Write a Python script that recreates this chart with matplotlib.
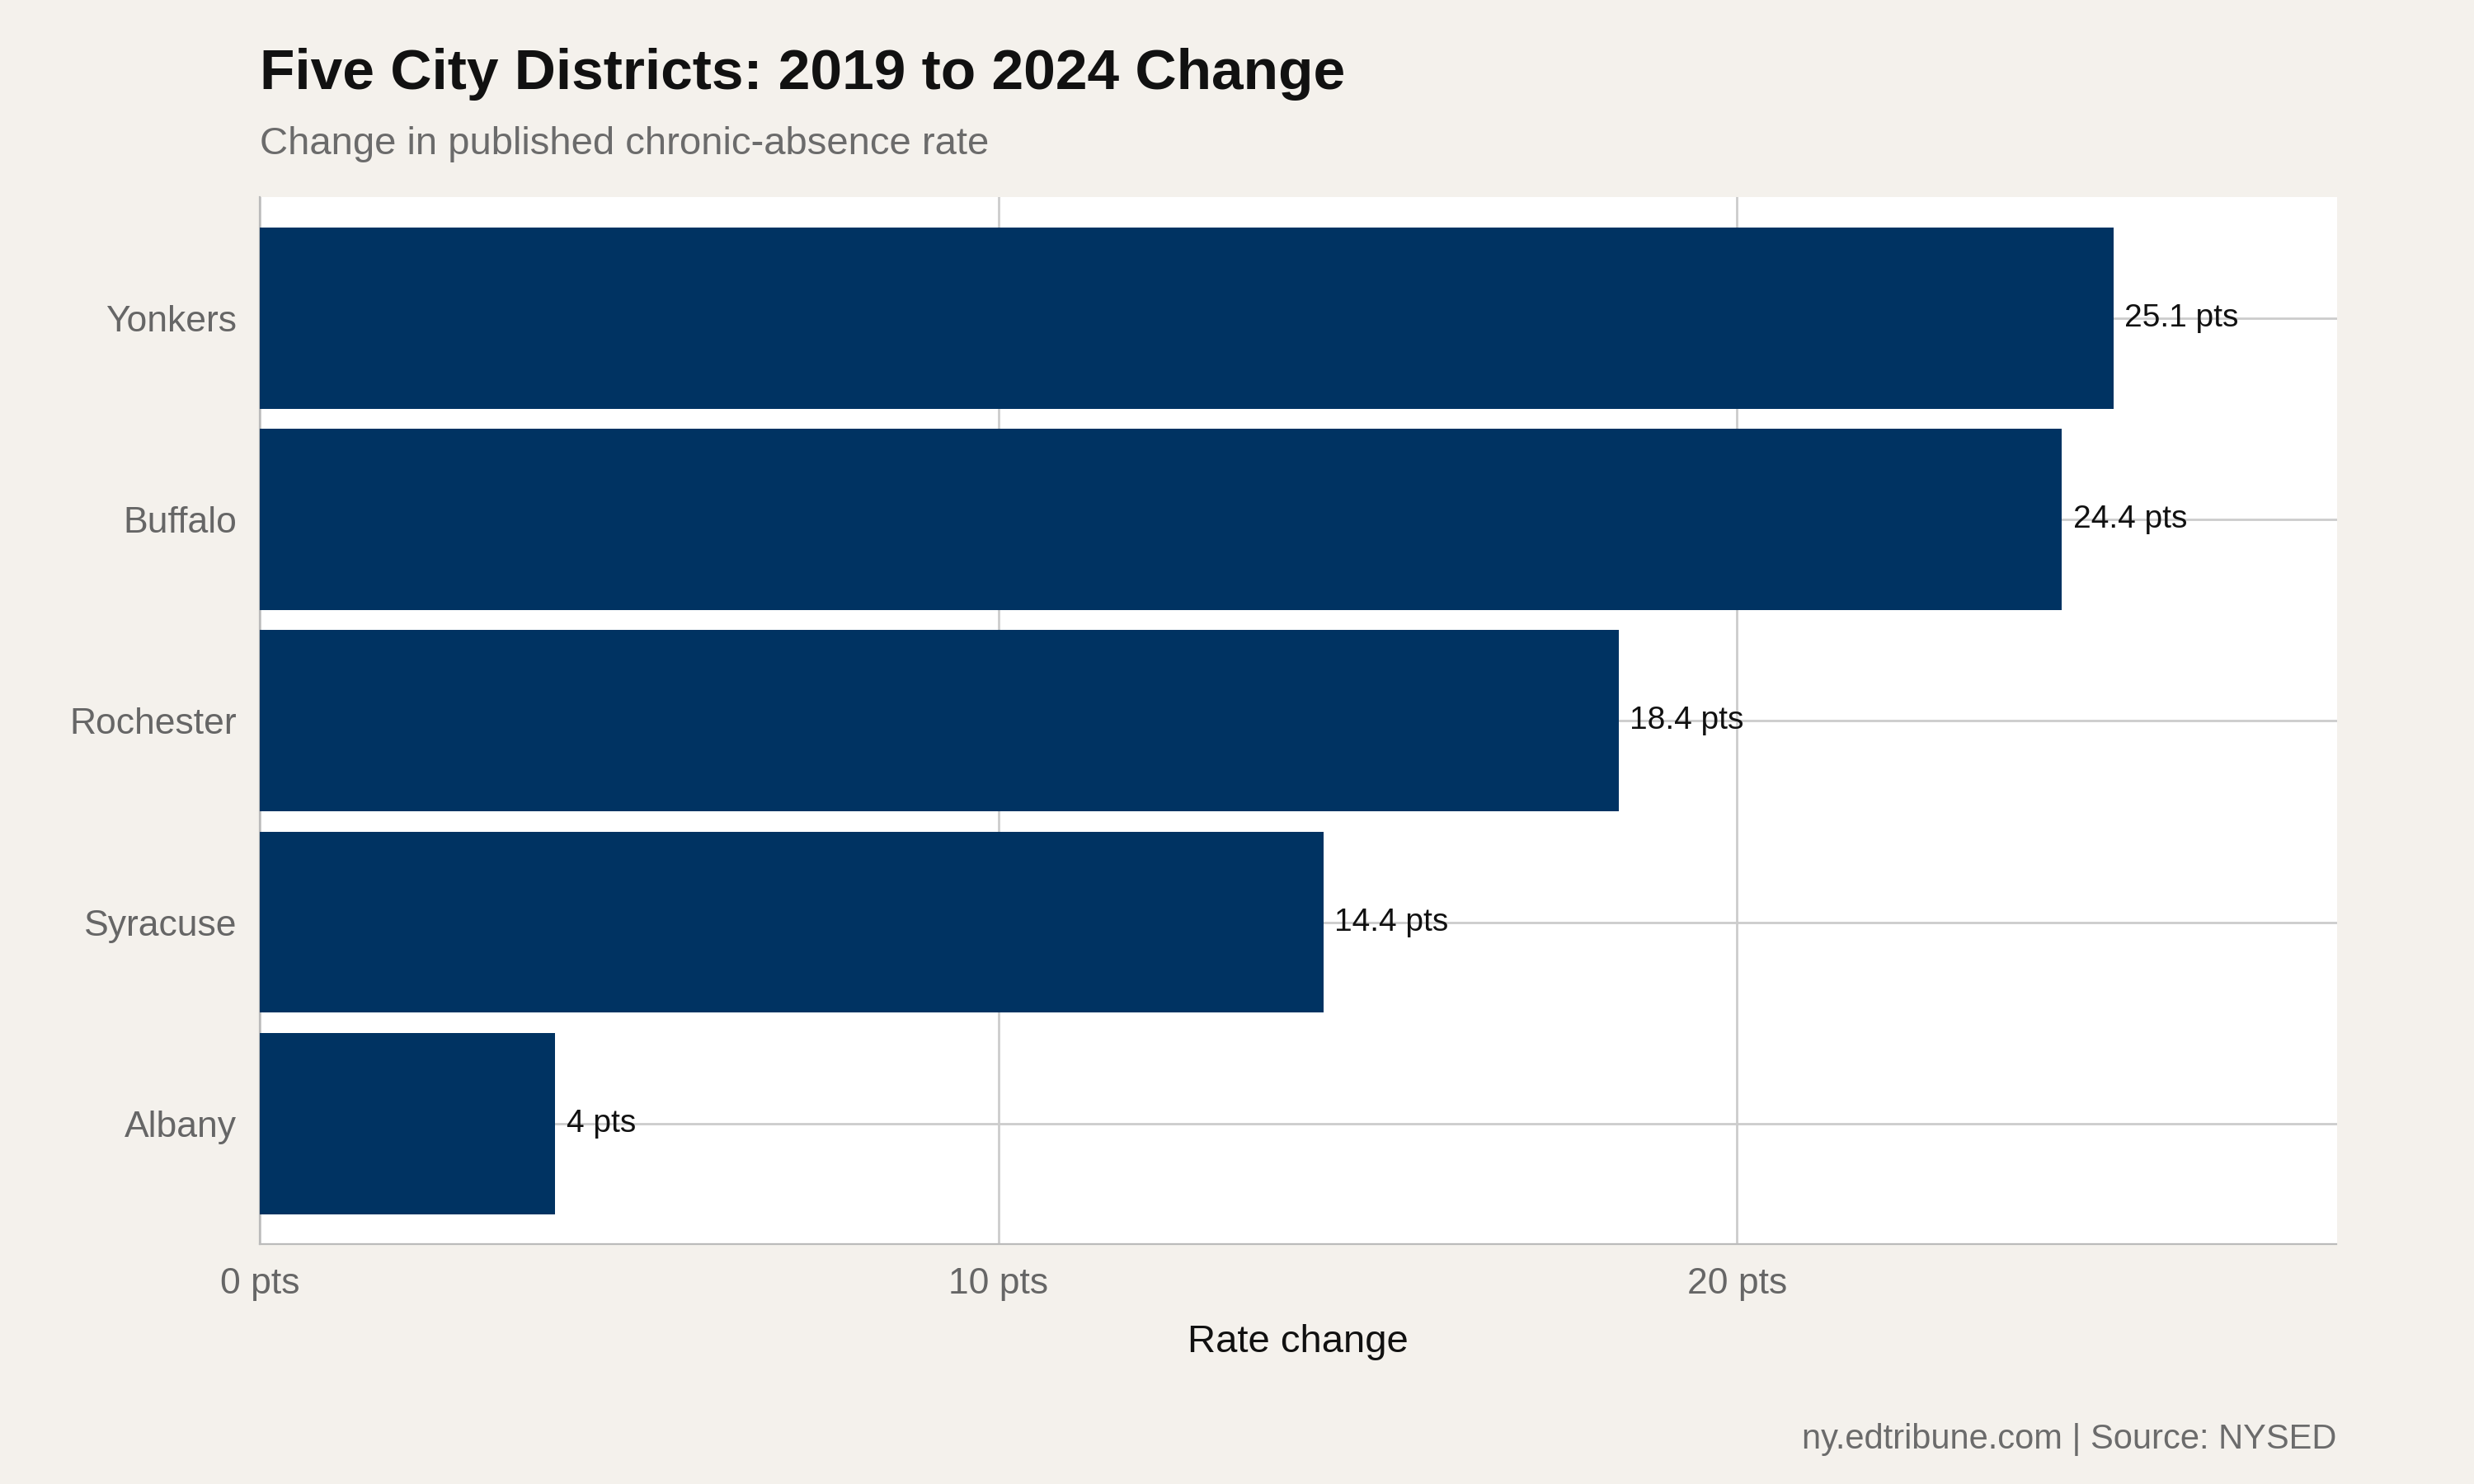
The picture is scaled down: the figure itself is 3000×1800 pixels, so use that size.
import matplotlib
matplotlib.use("Agg")
import matplotlib.pyplot as plt

districts = ["Albany", "Syracuse", "Rochester", "Buffalo", "Yonkers"]
changes = [4.0, 14.4, 18.4, 24.4, 25.1]
labels = ["4 pts", "14.4 pts", "18.4 pts", "24.4 pts", "25.1 pts"]
xticks = [0, 10, 20]

BG = "#f4f1ec"
BAR = "#003362"
GRID = "#cccccc"

plt.rcParams["font.family"] = ["Liberation Sans", "DejaVu Sans"]

fig = plt.figure(figsize=(15, 9), dpi=200, facecolor=BG)
ax = fig.add_axes([0.105, 0.1615, 0.8395, 0.7055])
ax.set_facecolor("white")

ax.barh(range(len(districts)), changes, height=0.9, color=BAR, zorder=3)
for i, (v, t) in enumerate(zip(changes, labels)):
    ax.text(v + 0.15, i, t, va="center", ha="left", fontsize=14, color="#111111", zorder=4)

ax.set_xlim(0, 28.12)
ax.set_ylim(-0.6, 4.6)
ax.set_yticks(range(len(districts)))
ax.set_yticklabels(districts)
ax.set_xticks(xticks)
ax.set_xticklabels([f"{x} pts" for x in xticks])
ax.tick_params(axis="both", length=0, labelsize=16, labelcolor="#666666", pad=10)
ax.grid(True, color=GRID, linewidth=1, zorder=0)
for s in ["top", "right"]:
    ax.spines[s].set_visible(False)
for s in ["left", "bottom"]:
    ax.spines[s].set_color("#bbbbbb")
ax.set_xlabel("Rate change", fontsize=17, color="#111111", labelpad=10)

fig.text(0.105, 0.95, "Five City Districts: 2019 to 2024 Change", fontsize=25,
         fontweight="bold", color="#111111", va="center")
fig.text(0.105, 0.903, "Change in published chronic-absence rate", fontsize=17,
         color="#6b6b6b", va="center")
fig.text(0.9445, 0.03, "ny.edtribune.com | Source: NYSED", fontsize=15,
         color="#6b6b6b", ha="right", va="center")

fig.savefig("out.png", dpi=200, facecolor=BG)
